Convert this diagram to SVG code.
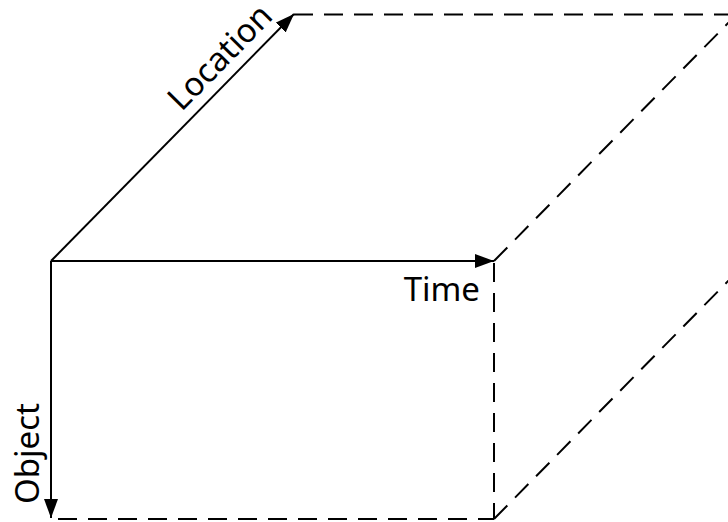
<svg xmlns="http://www.w3.org/2000/svg" width="728" height="522" viewBox="0 0 728 522">
<style>
.axis{stroke:#000;stroke-width:2;fill:none}
.dash{stroke:#000;stroke-width:2;fill:none;stroke-dasharray:19 11}
.lbl{font-family:"Noto Sans","Open Sans","DejaVu Sans",sans-serif;font-size:33px;fill:#000}
</style>
<defs>
<marker id="ah" markerUnits="userSpaceOnUse" markerWidth="20" markerHeight="14" refX="19" refY="7" orient="auto">
<path d="M0,0 L19,7 L0,14 Z" fill="#000"/>
</marker>
</defs>
<rect width="728" height="522" fill="#fff"/>
<g id="connectors">
<line class="dash" x1="294" y1="14.5" x2="740" y2="14.5"/>
<line class="dash" x1="494" y1="261" x2="737" y2="14"/>
<line class="dash" x1="494" y1="263" x2="494" y2="519"/>
<line class="dash" x1="58" y1="519" x2="494" y2="519"/>
<line class="dash" x1="494" y1="519" x2="737" y2="272"/>
<line class="axis" x1="51" y1="261" x2="294" y2="14" marker-end="url(#ah)"/>
<line class="axis" x1="51" y1="261" x2="494" y2="261" marker-end="url(#ah)"/>
<line class="axis" x1="51" y1="261" x2="51" y2="518" marker-end="url(#ah)"/>
</g>
<g id="label-location"><text class="lbl" text-anchor="middle" transform="translate(228,65) rotate(-45.5)">Location</text></g>
<g id="label-time"><text class="lbl" text-anchor="end" x="480" y="301">Time</text></g>
<g id="label-object"><text class="lbl" text-anchor="middle" transform="translate(39,453.5) rotate(-90)">Object</text></g>
</svg>
